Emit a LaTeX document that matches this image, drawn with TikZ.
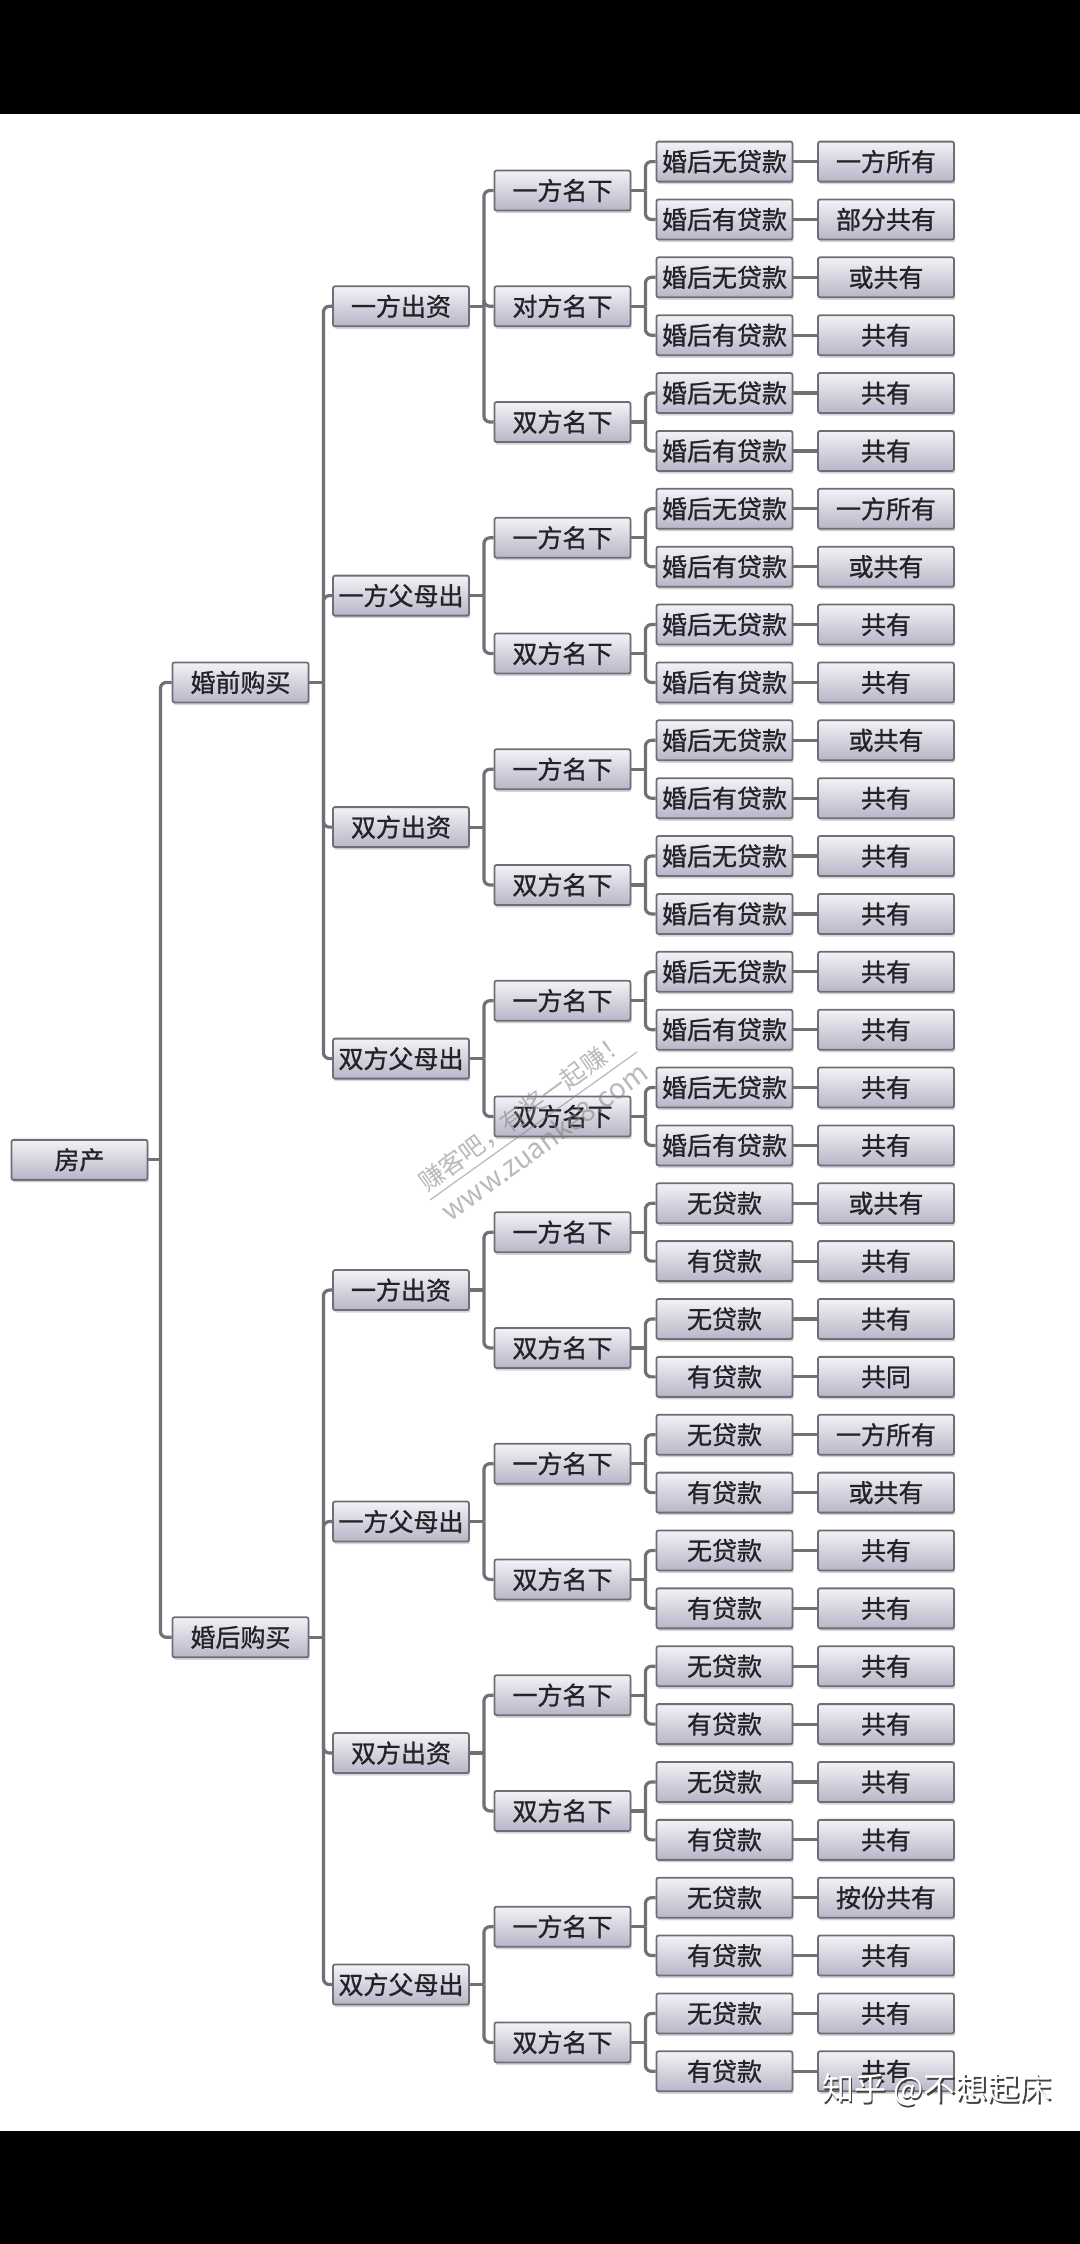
\documentclass[tikz,border=0pt]{standalone}
\usepackage{fontspec}
\setmainfont{Noto Sans CJK SC}
\newfontfamily\boxfont{Noto Sans CJK SC}[FakeBold=1]
\newfontfamily\wmfont{Noto Sans CJK SC}
\usetikzlibrary{shadows}
\definecolor{boxtop}{HTML}{F2F2F6}
\definecolor{boxbot}{HTML}{B6B6C8}
\definecolor{boxline}{HTML}{6E6E76}
\definecolor{conncol}{HTML}{707075}
\definecolor{txtcol}{HTML}{222228}
\definecolor{shadowcol}{HTML}{CBC0CC}
\tikzset{
  box/.style={draw=boxline, line width=0.9pt, rounded corners=1pt,
    top color=boxtop, bottom color=boxbot,
    minimum width=68pt, minimum height=20pt, inner sep=0pt,
    text=txtcol, font=\boxfont\fontsize{12.5pt}{13pt}\selectfont,
    drop shadow={shadow xshift=0.6pt, shadow yshift=-1.3pt, fill=shadowcol, opacity=0.7}},
  conn/.style={draw=conncol, line width=1.6pt},
  elbow/.style={conn, rounded corners=3pt},
  wmark/.style={text=gray, opacity=0.55, rotate=36, inner sep=0pt},
}
\newcommand{\linkto}[3]{%
  \draw[elbow] ([xshift=#3]#1.east) |- (#2.west);
  \draw[conn] (#1.east) -- ([xshift=#3]#1.east);}
\begin{document}
\begin{tikzpicture}[x=0.5pt,y=-0.5pt]
\useasboundingbox (0,0) rectangle (1080,2244);
\fill[black] (0,0) rectangle (1080,114);
\fill[white] (0,114) rectangle (1080,2131);
\fill[black] (0,2131) rectangle (1080,2244);

% leaves
\foreach \a/\b [count=\i from 0] in {
  婚后无贷款/一方所有, 婚后有贷款/部分共有,
  婚后无贷款/或共有, 婚后有贷款/共有,
  婚后无贷款/共有, 婚后有贷款/共有,
  婚后无贷款/一方所有, 婚后有贷款/或共有,
  婚后无贷款/共有, 婚后有贷款/共有,
  婚后无贷款/或共有, 婚后有贷款/共有,
  婚后无贷款/共有, 婚后有贷款/共有,
  婚后无贷款/共有, 婚后有贷款/共有,
  婚后无贷款/共有, 婚后有贷款/共有,
  无贷款/或共有, 有贷款/共有,
  无贷款/共有, 有贷款/共同,
  无贷款/一方所有, 有贷款/或共有,
  无贷款/共有, 有贷款/共有,
  无贷款/共有, 有贷款/共有,
  无贷款/共有, 有贷款/共有,
  无贷款/按份共有, 有贷款/共有,
  无贷款/共有, 有贷款/共有} {
  \node[box] (p\i) at (724.5,{161.6+57.87*\i}) {\a};
  \node[box] (q\i) at (886,{161.6+57.87*\i}) {\b};
  \draw[conn] (p\i.east) -- (q\i.west);
}

% level 3
\foreach \n/\r/\t/\ca/\cb in {
  a1/0.5/一方名下/0/1, a2/2.5/对方名下/2/3, a3/4.5/双方名下/4/5,
  b1/6.5/一方名下/6/7, b2/8.5/双方名下/8/9,
  c1/10.5/一方名下/10/11, c2/12.5/双方名下/12/13,
  d1/14.5/一方名下/14/15, d2/16.5/双方名下/16/17,
  e1/18.5/一方名下/18/19, e2/20.5/双方名下/20/21,
  f1/22.5/一方名下/22/23, f2/24.5/双方名下/24/25,
  g1/26.5/一方名下/26/27, g2/28.5/双方名下/28/29,
  h1/30.5/一方名下/30/31, h2/32.5/双方名下/32/33} {
  \node[box] (\n) at (562.5,{161.6+57.87*\r}) {\t};
  \linkto{\n}{p\ca}{7pt}
  \linkto{\n}{p\cb}{7pt}
}

% level 2
\node[box] (A) at (401,{161.6+57.87*2.5}) {一方出资};
\linkto{A}{a1}{7pt} \linkto{A}{a2}{7pt} \linkto{A}{a3}{7pt}
\node[box] (B) at (401,{161.6+57.87*7.5}) {一方父母出};
\linkto{B}{b1}{7pt} \linkto{B}{b2}{7pt}
\node[box] (C) at (401,{161.6+57.87*11.5}) {双方出资};
\linkto{C}{c1}{7pt} \linkto{C}{c2}{7pt}
\node[box] (D) at (401,{161.6+57.87*15.5}) {双方父母出};
\linkto{D}{d1}{7pt} \linkto{D}{d2}{7pt}
\node[box] (E) at (401,{161.6+57.87*19.5}) {一方出资};
\linkto{E}{e1}{7pt} \linkto{E}{e2}{7pt}
\node[box] (F) at (401,{161.6+57.87*23.5}) {一方父母出};
\linkto{F}{f1}{7pt} \linkto{F}{f2}{7pt}
\node[box] (G) at (401,{161.6+57.87*27.5}) {双方出资};
\linkto{G}{g1}{7pt} \linkto{G}{g2}{7pt}
\node[box] (H) at (401,{161.6+57.87*31.5}) {双方父母出};
\linkto{H}{h1}{7pt} \linkto{H}{h2}{7pt}

% level 1
\node[box] (pre) at (240.5,{161.6+57.87*9}) {婚前购买};
\linkto{pre}{A}{7pt} \linkto{pre}{B}{7pt} \linkto{pre}{C}{7pt} \linkto{pre}{D}{7pt}
\node[box] (post) at (240.5,{161.6+57.87*25.5}) {婚后购买};
\linkto{post}{E}{7pt} \linkto{post}{F}{7pt} \linkto{post}{G}{7pt} \linkto{post}{H}{7pt}

% root
\node[box] (root) at (79.5,{161.6+57.87*17.25}) {房产};
\linkto{root}{pre}{6pt} \linkto{root}{post}{6pt}

% watermark
\node[wmark, font=\wmfont\fontsize{12.5pt}{13pt}\selectfont] (wm1) at (523,1112) {赚客吧，有奖一起赚！};
\node[wmark, font=\wmfont\fontsize{14pt}{14pt}\selectfont] (wm2) at (544,1141) {www.zuanke8.com};
\coordinate (wl1) at (430,1200);
\coordinate (wl2) at (637,1052);
\draw[gray, opacity=0.55, line width=0.6pt] (wl1) -- (wl2);

% zhihu mark
\node[text=black!75, font=\wmfont\fontsize{16pt}{16pt}\selectfont, inner sep=0pt] (zs) at (938.5,2091.5) {知乎 @不想起床};
\node[text=white, font=\wmfont\fontsize{16pt}{16pt}\selectfont, inner sep=0pt] (zh) at (937,2090) {知乎 @不想起床};
\end{tikzpicture}
\end{document}
